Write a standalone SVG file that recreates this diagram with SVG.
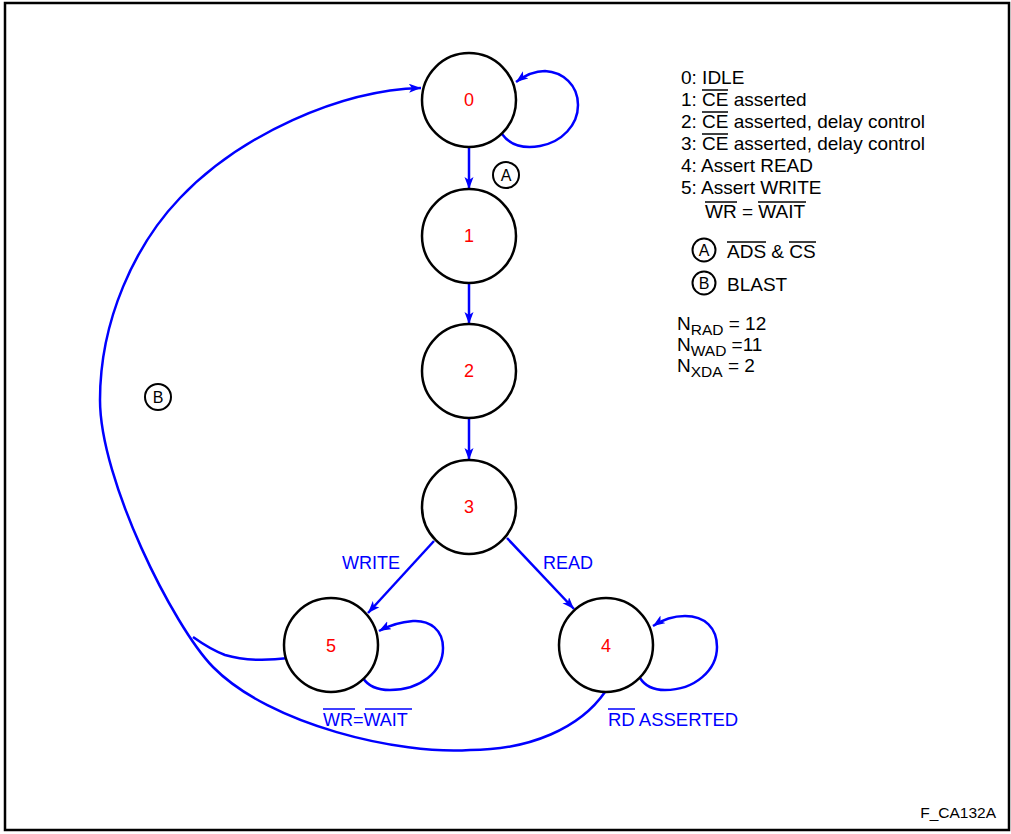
<svg xmlns="http://www.w3.org/2000/svg" width="1011" height="834" viewBox="0 0 1011 834">
<style>
.st{fill:#fff;stroke:#000;stroke-width:2.5}
.lbl{font-family:"Liberation Sans",Arial,sans-serif;font-size:18px;fill:#f00;text-anchor:middle}
.e{fill:none;stroke:#00f;stroke-width:2.5}
.bt{font-family:"Liberation Sans",Arial,sans-serif;font-size:18px;fill:#00f}
.tx{font-family:"Liberation Sans",Arial,sans-serif;font-size:19px;fill:#000}
.ltr{font-family:"Liberation Sans",Arial,sans-serif;font-size:16px;fill:#000;text-anchor:middle}
.sub{font-size:15.5px}
.ov{stroke:#000;stroke-width:1.5}
.ovb{stroke:#00f;stroke-width:1.5}
.cl{fill:none;stroke:#000;stroke-width:2}
</style>
<defs>
<marker id="ah" markerUnits="userSpaceOnUse" markerWidth="14" markerHeight="10" refX="12" refY="4.5" orient="auto">
<path d="M0,0 L12,4.5 L0,9 L3,4.5 z" fill="#00f"/>
</marker>
</defs>
<rect x="5" y="3" width="1004" height="827" fill="#fff" stroke="#000" stroke-width="2.5"/>

<g id="connectors">
<line class="e" x1="469" y1="147" x2="469" y2="189" marker-end="url(#ah)"/>
<line class="e" x1="469" y1="283" x2="469" y2="324" marker-end="url(#ah)"/>
<line class="e" x1="469" y1="418" x2="469" y2="460" marker-end="url(#ah)"/>
<line class="e" x1="434" y1="541" x2="368" y2="613" marker-end="url(#ah)"/>
<line class="e" x1="507" y1="538" x2="574" y2="609" marker-end="url(#ah)"/>
<path class="e" d="M502,134 C512,148 528,148 540,146 C562,142 578,125 578,105 C578,85 563,72 545,71 C533,71 524,76 516,82" marker-end="url(#ah)"/>
<path class="e" d="M363,678 C368,686 376,690 390,690 C420,690 443,672 443,648 C443,630 430,620 413,621 C400,622 388,626 379,631" marker-end="url(#ah)"/>
<path class="e" d="M640,678 C645,686 652,690 665,690 C695,690 717,670 717,647 C717,628 705,616 685,616 C672,616 662,620 653,626" marker-end="url(#ah)"/>
<path class="e" d="M605,692 C580,728 530,750 470,750 C400,755 270,725 213,667 C173,626 100,480 100,400 C100,320 135,245 180,198 C240,135 340,90 421,88" marker-end="url(#ah)"/>
<path class="e" d="M289,658 C265,661 245,661 225,655 C212,650 200,642 193,637"/>
</g>

<g id="node0"><circle class="st" cx="469" cy="100" r="47"/><text class="lbl" x="469" y="106">0</text></g>
<g id="node1"><circle class="st" cx="469" cy="236" r="47"/><text class="lbl" x="469" y="242">1</text></g>
<g id="node2"><circle class="st" cx="469" cy="371" r="47"/><text class="lbl" x="469" y="377">2</text></g>
<g id="node3"><circle class="st" cx="469" cy="507" r="47"/><text class="lbl" x="469" y="513">3</text></g>
<g id="node5"><circle class="st" cx="331" cy="645" r="47"/><text class="lbl" x="331" y="652">5</text></g>
<g id="node4"><circle class="st" cx="606" cy="645" r="47"/><text class="lbl" x="606" y="652">4</text></g>

<g id="edge-labels">
<text class="bt" x="342" y="569">WRITE</text>
<text class="bt" x="543" y="569">READ</text>
<text class="bt" x="323" y="726">WR=WAIT</text>
<line class="ovb" x1="323" y1="709" x2="355" y2="709"/>
<line class="ovb" x1="365" y1="709" x2="412" y2="709"/>
<text class="bt" x="608" y="726" style="font-size:18.5px">RD ASSERTED</text>
<line class="ovb" x1="608" y1="709" x2="635" y2="709"/>
<g id="markA"><circle class="cl" cx="506" cy="175" r="13"/><text class="ltr" x="506" y="181">A</text></g>
<g id="markB"><circle class="cl" cx="158" cy="397" r="13"/><text class="ltr" x="158" y="403">B</text></g>
</g>

<g id="legend">
<text class="tx" x="681" y="84">0: IDLE</text>
<text class="tx" x="681" y="106">1: CE asserted</text>
<text class="tx" x="681" y="128">2: CE asserted, delay control</text>
<text class="tx" x="681" y="150">3: CE asserted, delay control</text>
<text class="tx" x="681" y="172">4: Assert READ</text>
<text class="tx" x="681" y="194">5: Assert WRITE</text>
<text class="tx" x="705" y="218">WR = WAIT</text>
<line class="ov" x1="702" y1="90" x2="728" y2="90"/>
<line class="ov" x1="702" y1="112" x2="728" y2="112"/>
<line class="ov" x1="702" y1="134" x2="728" y2="134"/>
<line class="ov" x1="705" y1="202" x2="737" y2="202"/>
<line class="ov" x1="758" y1="202" x2="806" y2="202"/>
<circle class="cl" cx="704" cy="250" r="11.5"/><text class="ltr" x="704" y="256">A</text>
<text class="tx" x="727" y="258">ADS &amp; CS</text>
<line class="ov" x1="727" y1="242" x2="766" y2="242"/>
<line class="ov" x1="789" y1="242" x2="816" y2="242"/>
<circle class="cl" cx="704" cy="283" r="11.5"/><text class="ltr" x="704" y="289">B</text>
<text class="tx" x="727" y="291">BLAST</text>
<text class="tx" x="677" y="330">N<tspan class="sub" dy="5">RAD</tspan><tspan dy="-5"> = 12</tspan></text>
<text class="tx" x="677" y="351">N<tspan class="sub" dy="5">WAD</tspan><tspan dy="-5"> =11</tspan></text>
<text class="tx" x="677" y="372">N<tspan class="sub" dy="5">XDA</tspan><tspan dy="-5"> = 2</tspan></text>
</g>
<text class="tx" x="996" y="818" style="font-size:15.5px" text-anchor="end">F_CA132A</text>
</svg>
